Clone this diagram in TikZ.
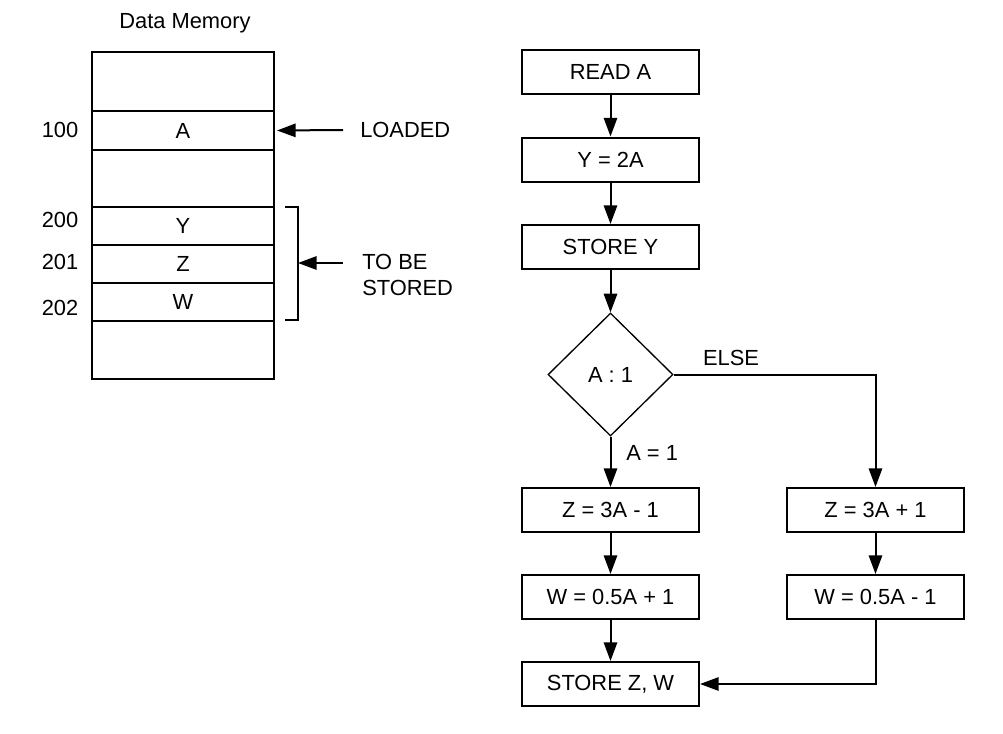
\documentclass[tikz,border=0pt]{standalone}
\usepackage{fontspec}
\setmainfont{Liberation Sans}
\usetikzlibrary{arrows.meta,shapes.geometric}
\begin{document}
\begin{tikzpicture}[x=0.75pt,y=-0.75pt,
  every node/.style={font=\fontsize{16.4}{19.5}\selectfont},
  cell/.style={draw, line width=1.5pt, minimum width=136.5pt, inner sep=0pt},
  fbox/.style={draw, line width=1.5pt, minimum width=132.75pt, minimum height=33pt, inner sep=0pt},
  dec/.style={draw, diamond, aspect=1, line width=1pt, minimum width=93.75pt, minimum height=92.25pt, inner sep=0pt},
  lbl/.style={inner sep=0pt},
  arr/.style={line width=1.5pt, -{Triangle[length=14pt,width=10pt]}}]
\useasboundingbox (0,0) rectangle (1003,733);
% Data memory
\node[lbl] (title) at (185,23) {Data Memory};
\node[cell, minimum height=44.25pt] (c1) at (183,81.5) {};
\node[cell, minimum height=29.25pt] (cA) at (183,130.5) {A};
\node[cell, minimum height=42.75pt] (c3) at (183,178.5) {};
\node[cell, minimum height=28.5pt] (cY) at (183,226) {Y};
\node[cell, minimum height=28.5pt] (cZ) at (183,264) {Z};
\node[cell, minimum height=28.5pt] (cW) at (183,302) {W};
\node[cell, minimum height=43.5pt] (c7) at (183,350) {};
\node[lbl] (a100) at (60,130) {100};
\node[lbl] (a200) at (60,220) {200};
\node[lbl] (a201) at (60,262) {201};
\node[lbl] (a202) at (60,308) {202};
\node[anchor=west, inner ysep=0pt, inner xsep=12.75pt] (loaded) at (343,130) {LOADED};
\draw[arr, shorten >=1.5pt] (loaded.west) -- (cA.east);
\coordinate (bt) at (285,207);
\coordinate (bb) at (285,320);
\coordinate (brk) at (298,263);
\draw[line width=1.5pt] (bt) -- (298,207) -- (298,320) -- (bb);
\node[lbl, anchor=west, align=left] (tbs) at (362,275) {TO BE\\STORED};
\coordinate (tbsarrow) at (343,263);
\draw[arr] (tbsarrow) -- (brk);
% Flowchart
\node[fbox] (read) at (610.5,72) {READ A};
\node[fbox] (y2a) at (610.5,159.5) {Y = 2A};
\node[fbox] (sty) at (610.5,247) {STORE Y};
\node[dec] (dia) at (610.5,374.5) {A : 1};
\node[fbox] (zm) at (610.5,510) {Z = 3A - 1};
\node[fbox] (wp) at (610.5,597) {W = 0.5A + 1};
\node[fbox] (sz) at (610.5,684) {STORE Z, W};
\node[fbox] (zp) at (875.5,510) {Z = 3A + 1};
\node[fbox] (wm) at (875.5,597) {W = 0.5A - 1};
\node[lbl, anchor=west] (aeq) at (626,453) {A = 1};
\node[lbl] (else) at (731,358) {ELSE};
\draw[arr] (read) -- (y2a);
\draw[arr] (y2a) -- (sty);
\draw[arr] (sty) -- (dia);
\draw[arr] (dia) -- (zm);
\draw[arr] (zm) -- (wp);
\draw[arr] (wp) -- (sz);
\draw[arr] (dia.east) -| (zp.north);
\draw[arr] (zp) -- (wm);
\draw[arr] (wm.south) |- (sz.east);
\end{tikzpicture}
\end{document}
